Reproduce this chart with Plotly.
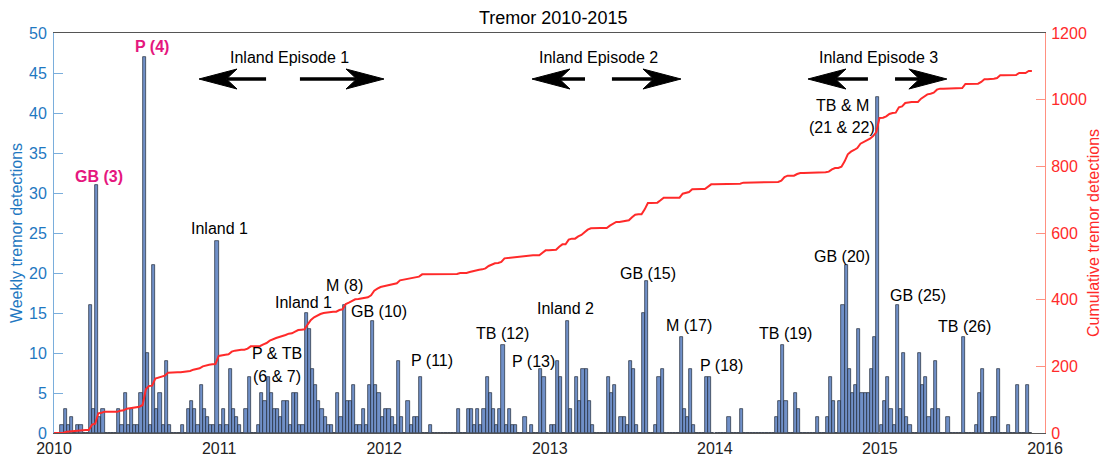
import numpy as np
import pandas as pd
import plotly.graph_objects as go

# Weekly tremor detection counts, one list per calendar year (week 0 starts on 1 January)
weekly_2010 = [0, 0, 1, 3, 1, 2, 0, 1, 1, 0,
               0, 16, 3, 31, 2, 3, 0, 0, 0, 0,
               3, 1, 5, 1, 3, 1, 1, 5, 47, 10,
               1, 21, 3, 5, 1, 9, 1, 0, 0, 0,
               1, 0, 3, 4, 3, 1, 6, 3, 2, 1,
               1, 24]
weekly_2011 = [1, 3, 1, 8, 3, 2, 1, 0, 3, 7,
               0, 0, 1, 5, 4, 7, 5, 3, 3, 2,
               4, 4, 1, 5, 5, 1, 1, 15, 13, 8,
               6, 4, 3, 2, 1, 1, 0, 5, 2, 16,
               4, 4, 6, 1, 1, 3, 1, 6, 14, 6,
               5, 2]
weekly_2012 = [3, 3, 2, 1, 9, 2, 0, 4, 1, 2,
               2, 7, 0, 0, 1, 0, 0, 0, 0, 0,
               0, 0, 0, 3, 0, 0, 3, 3, 1, 3,
               1, 3, 7, 5, 3, 1, 3, 11, 1, 3,
               1, 1, 0, 0, 2, 0, 1, 0, 0, 8,
               7, 0]
weekly_2013 = [1, 1, 9, 7, 0, 14, 3, 0, 7, 4,
               8, 8, 4, 1, 0, 0, 0, 0, 7, 5,
               6, 0, 2, 2, 1, 9, 8, 1, 0, 15,
               19, 0, 0, 1, 7, 8, 0, 0, 0, 0,
               0, 12, 3, 2, 8, 1, 0, 0, 0, 7,
               7, 0]
weekly_2014 = [0, 0, 0, 0, 2, 0, 0, 0, 3, 0,
               0, 0, 0, 0, 0, 0, 0, 0, 0, 2,
               4, 11, 4, 0, 0, 5, 3, 0, 0, 0,
               0, 0, 2, 0, 0, 2, 7, 4, 0, 4,
               16, 21, 8, 5, 6, 13, 5, 5, 5, 8,
               12, 42]
weekly_2015 = [1, 4, 7, 3, 1, 16, 3, 10, 2, 1,
               0, 0, 10, 6, 7, 2, 3, 9, 3, 0,
               0, 2, 0, 0, 0, 0, 12, 0, 0, 0,
               1, 5, 8, 0, 0, 2, 2, 8, 0, 0,
               1, 0, 0, 6, 0, 0, 6, 0]

years = [2010, 2011, 2012, 2013, 2014, 2015]
year_lists = [weekly_2010, weekly_2011, weekly_2012, weekly_2013, weekly_2014, weekly_2015]
year_ticks = ["2010", "2011", "2012", "2013", "2014", "2015", "2016"]

# Event labels: (text, decimal year, height in weekly-count units, colour, bold)
PINK = "#e5177e"
event_labels = [
    ("GB (3)", 2010.272, 32.1, PINK, True),
    ("P (4)", 2010.593, 48.3, PINK, True),
    ("Inland 1", 2010.999, 25.6, "black", False),
    ("P & TB", 2011.350, 9.9, "black", False),
    ("(6 & 7)", 2011.350, 7.1, "black", False),
    ("Inland 1", 2011.508, 16.3, "black", False),
    ("M (8)", 2011.762, 18.4, "black", False),
    ("GB (10)", 2011.968, 15.2, "black", False),
    ("P (11)", 2012.292, 9.1, "black", False),
    ("TB (12)", 2012.718, 12.4, "black", False),
    ("P (13)", 2012.903, 8.9, "black", False),
    ("Inland 2", 2013.097, 15.6, "black", False),
    ("GB (15)", 2013.596, 19.9, "black", False),
    ("M (17)", 2013.842, 13.5, "black", False),
    ("P (18)", 2014.041, 8.4, "black", False),
    ("TB (19)", 2014.426, 12.4, "black", False),
    ("GB (20)", 2014.768, 22.1, "black", False),
    ("TB & M", 2014.771, 41.0, "black", False),
    ("(21 & 22)", 2014.771, 38.25, "black", False),
    ("GB (25)", 2015.228, 17.25, "black", False),
    ("TB (26)", 2015.510, 13.3, "black", False),
]

# Inland episodes: label position and the two arrows (tail, tip) in decimal years
episodes = [
    ("Inland Episode 1", 2011.426, (2011.284, 2010.878), (2011.489, 2011.998)),
    ("Inland Episode 2", 2013.294, (2013.215, 2012.894), (2013.378, 2013.796)),
    ("Inland Episode 3", 2014.989, (2014.928, 2014.565), (2015.092, 2015.406)),
]
EPISODE_TEXT_Y = 47.0
EPISODE_ARROW_Y = 44.25

FONT = "Liberation Sans, Arial, Helvetica, sans-serif"
BLUE = "#1f78c1"
BLUE_AXIS = "#7aaedc"
RED = "#ff2a2a"
RED_AXIS = "#ff9080"
X0, X1 = 2010.0, 2016.0


def when(dec_year):
    start = pd.Timestamp(f"{int(dec_year)}-01-01")
    return start + pd.Timedelta(days=(dec_year - int(dec_year)) * 365.25)


# Week start dates and counts for the whole record
starts, counts = [], []
for yr, vals in zip(years, year_lists):
    s = pd.Timestamp(f"{yr}-01-01") + pd.to_timedelta(7 * np.arange(len(vals)), unit="D")
    starts.extend(s)
    counts.extend(vals)
starts = pd.DatetimeIndex(starts)
counts = np.array(counts)
week = pd.Timedelta(days=7)

centers = starts + week / 2
cumulative = np.concatenate([[0], np.cumsum(counts)])
cum_x = pd.DatetimeIndex([starts[0]]).append(starts + week)

fig = go.Figure()
fig.add_trace(go.Bar(
    x=centers, y=counts, width=7 * 86400000,
    marker=dict(color="#7090c8", line=dict(color="#1f2838", width=0.7)),
    yaxis="y", showlegend=False,
))
fig.add_trace(go.Scatter(
    x=cum_x, y=cumulative, mode="lines",
    line=dict(color=RED, width=2),
    yaxis="y2", showlegend=False,
))

annotations = []
for text, xyr, yv, color, bold in event_labels:
    annotations.append(dict(
        text=f"<b>{text}</b>" if bold else text,
        x=when(xyr), y=yv, xref="x", yref="y",
        showarrow=False, xanchor="center", yanchor="middle",
        font=dict(family=FONT, size=16, color=color),
    ))

shapes = []


def to_paper(dec_year):
    return (dec_year - X0) / (X1 - X0)


def add_arrow(tail, tip, y):
    d = 1 if tip > tail else -1
    L, H = 38 / 991, 10 / 400
    xt, xb = to_paper(tip), to_paper(tail)
    notch = xt - d * 0.72 * L
    back = xt - d * L
    shapes.append(dict(type="line", xref="paper", yref="paper",
                       x0=xb, x1=notch, y0=y, y1=y,
                       line=dict(color="black", width=3.5)))
    shapes.append(dict(type="path", xref="paper", yref="paper",
                       path=f"M {xt},{y} L {back},{y + H} L {notch},{y} L {back},{y - H} Z",
                       fillcolor="black", line=dict(color="black", width=1)))


for text, xyr, left_arrow, right_arrow in episodes:
    annotations.append(dict(
        text=text, x=when(xyr), y=EPISODE_TEXT_Y, xref="x", yref="y",
        showarrow=False, xanchor="center", yanchor="middle",
        font=dict(family=FONT, size=16, color="black"),
    ))
    ya = EPISODE_ARROW_Y / 50
    add_arrow(*left_arrow, ya)
    add_arrow(*right_arrow, ya)

# Chart title placed as a text item above the plot area
annotations.append(dict(
    text="Tremor 2010-2015", xref="paper", yref="paper",
    x=(553 - 54) / 991, y=1 + 15 / 400, xanchor="center", yanchor="middle",
    showarrow=False, font=dict(family=FONT, size=18, color="black"),
))

fig.update_layout(
    width=1107, height=456,
    margin=dict(l=54, r=62, t=33, b=23),
    paper_bgcolor="white", plot_bgcolor="white",
    font=dict(family=FONT, size=16, color="black"),
    bargap=0,
    xaxis=dict(
        type="date", range=[when(X0), when(X1)],
        tickvals=[pd.Timestamp(f"{t}-01-01") for t in year_ticks],
        ticktext=year_ticks,
        showline=True, linecolor="#555555", linewidth=1, mirror=True,
        ticks="", showgrid=False, zeroline=False,
        tickfont=dict(family=FONT, size=16, color="#222222"),
        ticklabelstandoff=1,
        automargin=False,
    ),
    yaxis=dict(
        range=[0, 50], dtick=5, tick0=0,
        showline=True, linecolor=BLUE_AXIS, linewidth=1,
        ticks="inside", ticklen=9, tickcolor=BLUE_AXIS,
        showgrid=False, zeroline=False,
        tickfont=dict(family=FONT, size=16, color=BLUE),
        ticklabelstandoff=3,
        title=dict(text="Weekly tremor detections", standoff=2,
                   font=dict(family=FONT, size=16, color=BLUE)),
        automargin=False,
    ),
    yaxis2=dict(
        range=[0, 1200], dtick=200, tick0=0,
        overlaying="y", side="right",
        showline=True, linecolor=RED_AXIS, linewidth=1,
        ticks="inside", ticklen=9, tickcolor=RED_AXIS,
        showgrid=False, zeroline=False,
        tickfont=dict(family=FONT, size=16, color=RED),
        ticklabelstandoff=2,
        title=dict(text="Cumulative tremor detections", standoff=1,
                   font=dict(family=FONT, size=16, color=RED)),
        automargin=False,
    ),
    annotations=annotations,
    shapes=shapes,
    showlegend=False,
)

fig.write_html("out.html")
